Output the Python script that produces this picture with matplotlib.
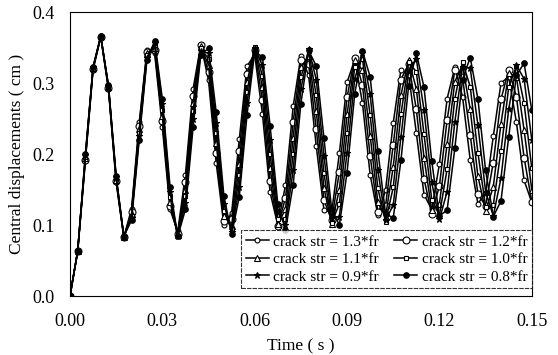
import numpy as np
import matplotlib
matplotlib.use("Agg")
import matplotlib.pyplot as plt

# time step of the solver output (s)
time_s = np.arange(61) * 0.0025

disp_13 = [0.0, 0.063, 0.190, 0.319, 0.365, 0.291, 0.160, 0.083, 0.123, 0.245, 0.346, 0.342, 0.238, 0.122, 0.091,
           0.171, 0.292, 0.354, 0.304, 0.187, 0.100, 0.117, 0.221, 0.324, 0.340, 0.257, 0.146, 0.100, 0.156, 0.267,
           0.338, 0.311, 0.211, 0.121, 0.118, 0.201, 0.301, 0.333, 0.272, 0.171, 0.114, 0.149, 0.244, 0.319, 0.312,
           0.230, 0.143, 0.122, 0.186, 0.278, 0.322, 0.281, 0.192, 0.130, 0.145, 0.225, 0.300, 0.309, 0.245, 0.163,
           0.132]
disp_12 = [0.0, 0.063, 0.192, 0.320, 0.365, 0.293, 0.162, 0.083, 0.119, 0.240, 0.344, 0.346, 0.246, 0.127, 0.088,
           0.160, 0.282, 0.353, 0.315, 0.201, 0.106, 0.108, 0.204, 0.313, 0.346, 0.276, 0.162, 0.099, 0.138, 0.245,
           0.332, 0.327, 0.235, 0.135, 0.107, 0.175, 0.280, 0.336, 0.297, 0.197, 0.119, 0.127, 0.213, 0.305, 0.327,
           0.263, 0.165, 0.116, 0.155, 0.248, 0.318, 0.308, 0.227, 0.144, 0.127, 0.188, 0.277, 0.319, 0.281, 0.195,
           0.133]
disp_11 = [0.0, 0.063, 0.194, 0.321, 0.366, 0.294, 0.164, 0.083, 0.116, 0.235, 0.342, 0.350, 0.254, 0.133, 0.086,
           0.150, 0.272, 0.352, 0.325, 0.215, 0.113, 0.099, 0.186, 0.301, 0.350, 0.294, 0.181, 0.102, 0.122, 0.223,
           0.322, 0.338, 0.260, 0.152, 0.102, 0.150, 0.256, 0.332, 0.318, 0.226, 0.132, 0.112, 0.182, 0.283, 0.333,
           0.292, 0.195, 0.121, 0.130, 0.214, 0.302, 0.325, 0.263, 0.169, 0.120, 0.154, 0.243, 0.314, 0.309, 0.234,
           0.150]
disp_10 = [0.0, 0.063, 0.196, 0.322, 0.366, 0.295, 0.166, 0.083, 0.113, 0.230, 0.339, 0.354, 0.262, 0.140, 0.085,
           0.141, 0.261, 0.349, 0.334, 0.230, 0.120, 0.094, 0.170, 0.287, 0.351, 0.310, 0.200, 0.108, 0.109, 0.200,
           0.308, 0.345, 0.283, 0.173, 0.103, 0.130, 0.230, 0.323, 0.334, 0.255, 0.152, 0.105, 0.153, 0.256, 0.329,
           0.316, 0.228, 0.136, 0.114, 0.179, 0.278, 0.330, 0.295, 0.202, 0.126, 0.128, 0.205, 0.294, 0.324, 0.272,
           0.180]
disp_09 = [0.0, 0.063, 0.198, 0.322, 0.366, 0.296, 0.168, 0.084, 0.110, 0.225, 0.336, 0.356, 0.270, 0.147, 0.084,
           0.131, 0.250, 0.345, 0.342, 0.244, 0.130, 0.090, 0.154, 0.272, 0.349, 0.325, 0.220, 0.118, 0.100, 0.178,
           0.291, 0.348, 0.305, 0.197, 0.110, 0.112, 0.202, 0.306, 0.342, 0.284, 0.177, 0.107, 0.128, 0.224, 0.317,
           0.334, 0.262, 0.160, 0.108, 0.147, 0.245, 0.323, 0.321, 0.241, 0.147, 0.113, 0.166, 0.263, 0.325, 0.306,
           0.220]
disp_08 = [0.0, 0.063, 0.200, 0.323, 0.366, 0.297, 0.169, 0.084, 0.107, 0.220, 0.333, 0.359, 0.278, 0.154, 0.084,
           0.122, 0.238, 0.340, 0.349, 0.259, 0.141, 0.087, 0.140, 0.255, 0.344, 0.337, 0.240, 0.130, 0.093, 0.157,
           0.271, 0.346, 0.324, 0.222, 0.122, 0.100, 0.174, 0.285, 0.345, 0.309, 0.205, 0.116, 0.110, 0.191, 0.296,
           0.342, 0.294, 0.190, 0.113, 0.121, 0.208, 0.305, 0.336, 0.278, 0.177, 0.112, 0.134, 0.224, 0.311, 0.328,
           0.262]

labels = ["crack str = 1.3*fr", "crack str = 1.2*fr", "crack str = 1.1*fr",
          "crack str = 1.0*fr", "crack str = 0.9*fr", "crack str = 0.8*fr"]
series = [disp_13, disp_12, disp_11, disp_10, disp_09, disp_08]
markers = ["o", "o", "^", "s", "*", "o"]
msizes = [3.5, 5, 4, 3.5, 5, 4]
faces = ["white", "white", "white", "white", "black", "black"]

plt.rcParams["font.family"] = ["Liberation Serif", "DejaVu Serif"]

fig = plt.figure(figsize=(5.58, 3.55), dpi=100)
ax = fig.add_axes([0.1254, 0.166, 0.8276, 0.800])

handles = {}
for y, lab, m, ms, fc in zip(series, labels, markers, msizes, faces):
    h, = ax.plot(time_s[:len(y)], y, color="black", lw=1.1, marker=m, ms=ms,
                 mfc=fc, mec="black", mew=0.8, label=lab)
    handles[lab] = h

ax.set_xlim(0, 0.15)
ax.set_ylim(0, 0.4)
ax.set_xticks([0.00, 0.03, 0.06, 0.09, 0.12, 0.15])
ax.set_yticks([0.0, 0.1, 0.2, 0.3, 0.4])
ax.xaxis.set_major_formatter(matplotlib.ticker.FormatStrFormatter("%.2f"))
ax.yaxis.set_major_formatter(matplotlib.ticker.FormatStrFormatter("%.1f"))
ax.tick_params(length=0, labelsize=13)
ax.tick_params(axis="x", pad=12)
ax.tick_params(axis="y", pad=11)
for sp in ax.spines.values():
    sp.set_linewidth(0.8)
    sp.set_linestyle((0, (4, 1)))

ax.set_xlabel("Time ( s )", fontsize=12.5, labelpad=6)
ax.set_ylabel("Central displacements ( cm )", fontsize=12.5, labelpad=5)

order = [labels[0], labels[2], labels[4], labels[1], labels[3], labels[5]]
leg = ax.legend([handles[l] for l in order], order, ncol=2, loc="lower right",
                bbox_to_anchor=(1.0, 0.028), fontsize=11, frameon=True, fancybox=False,
                handlelength=1.5, handletextpad=0.3, columnspacing=1.0,
                labelspacing=0.25, borderpad=0.3, borderaxespad=0)
leg.get_frame().set_edgecolor("black")
leg.get_frame().set_linewidth(0.8)
leg.get_frame().set_linestyle((0, (4, 1)))

fig.savefig("out.png", dpi=100)
